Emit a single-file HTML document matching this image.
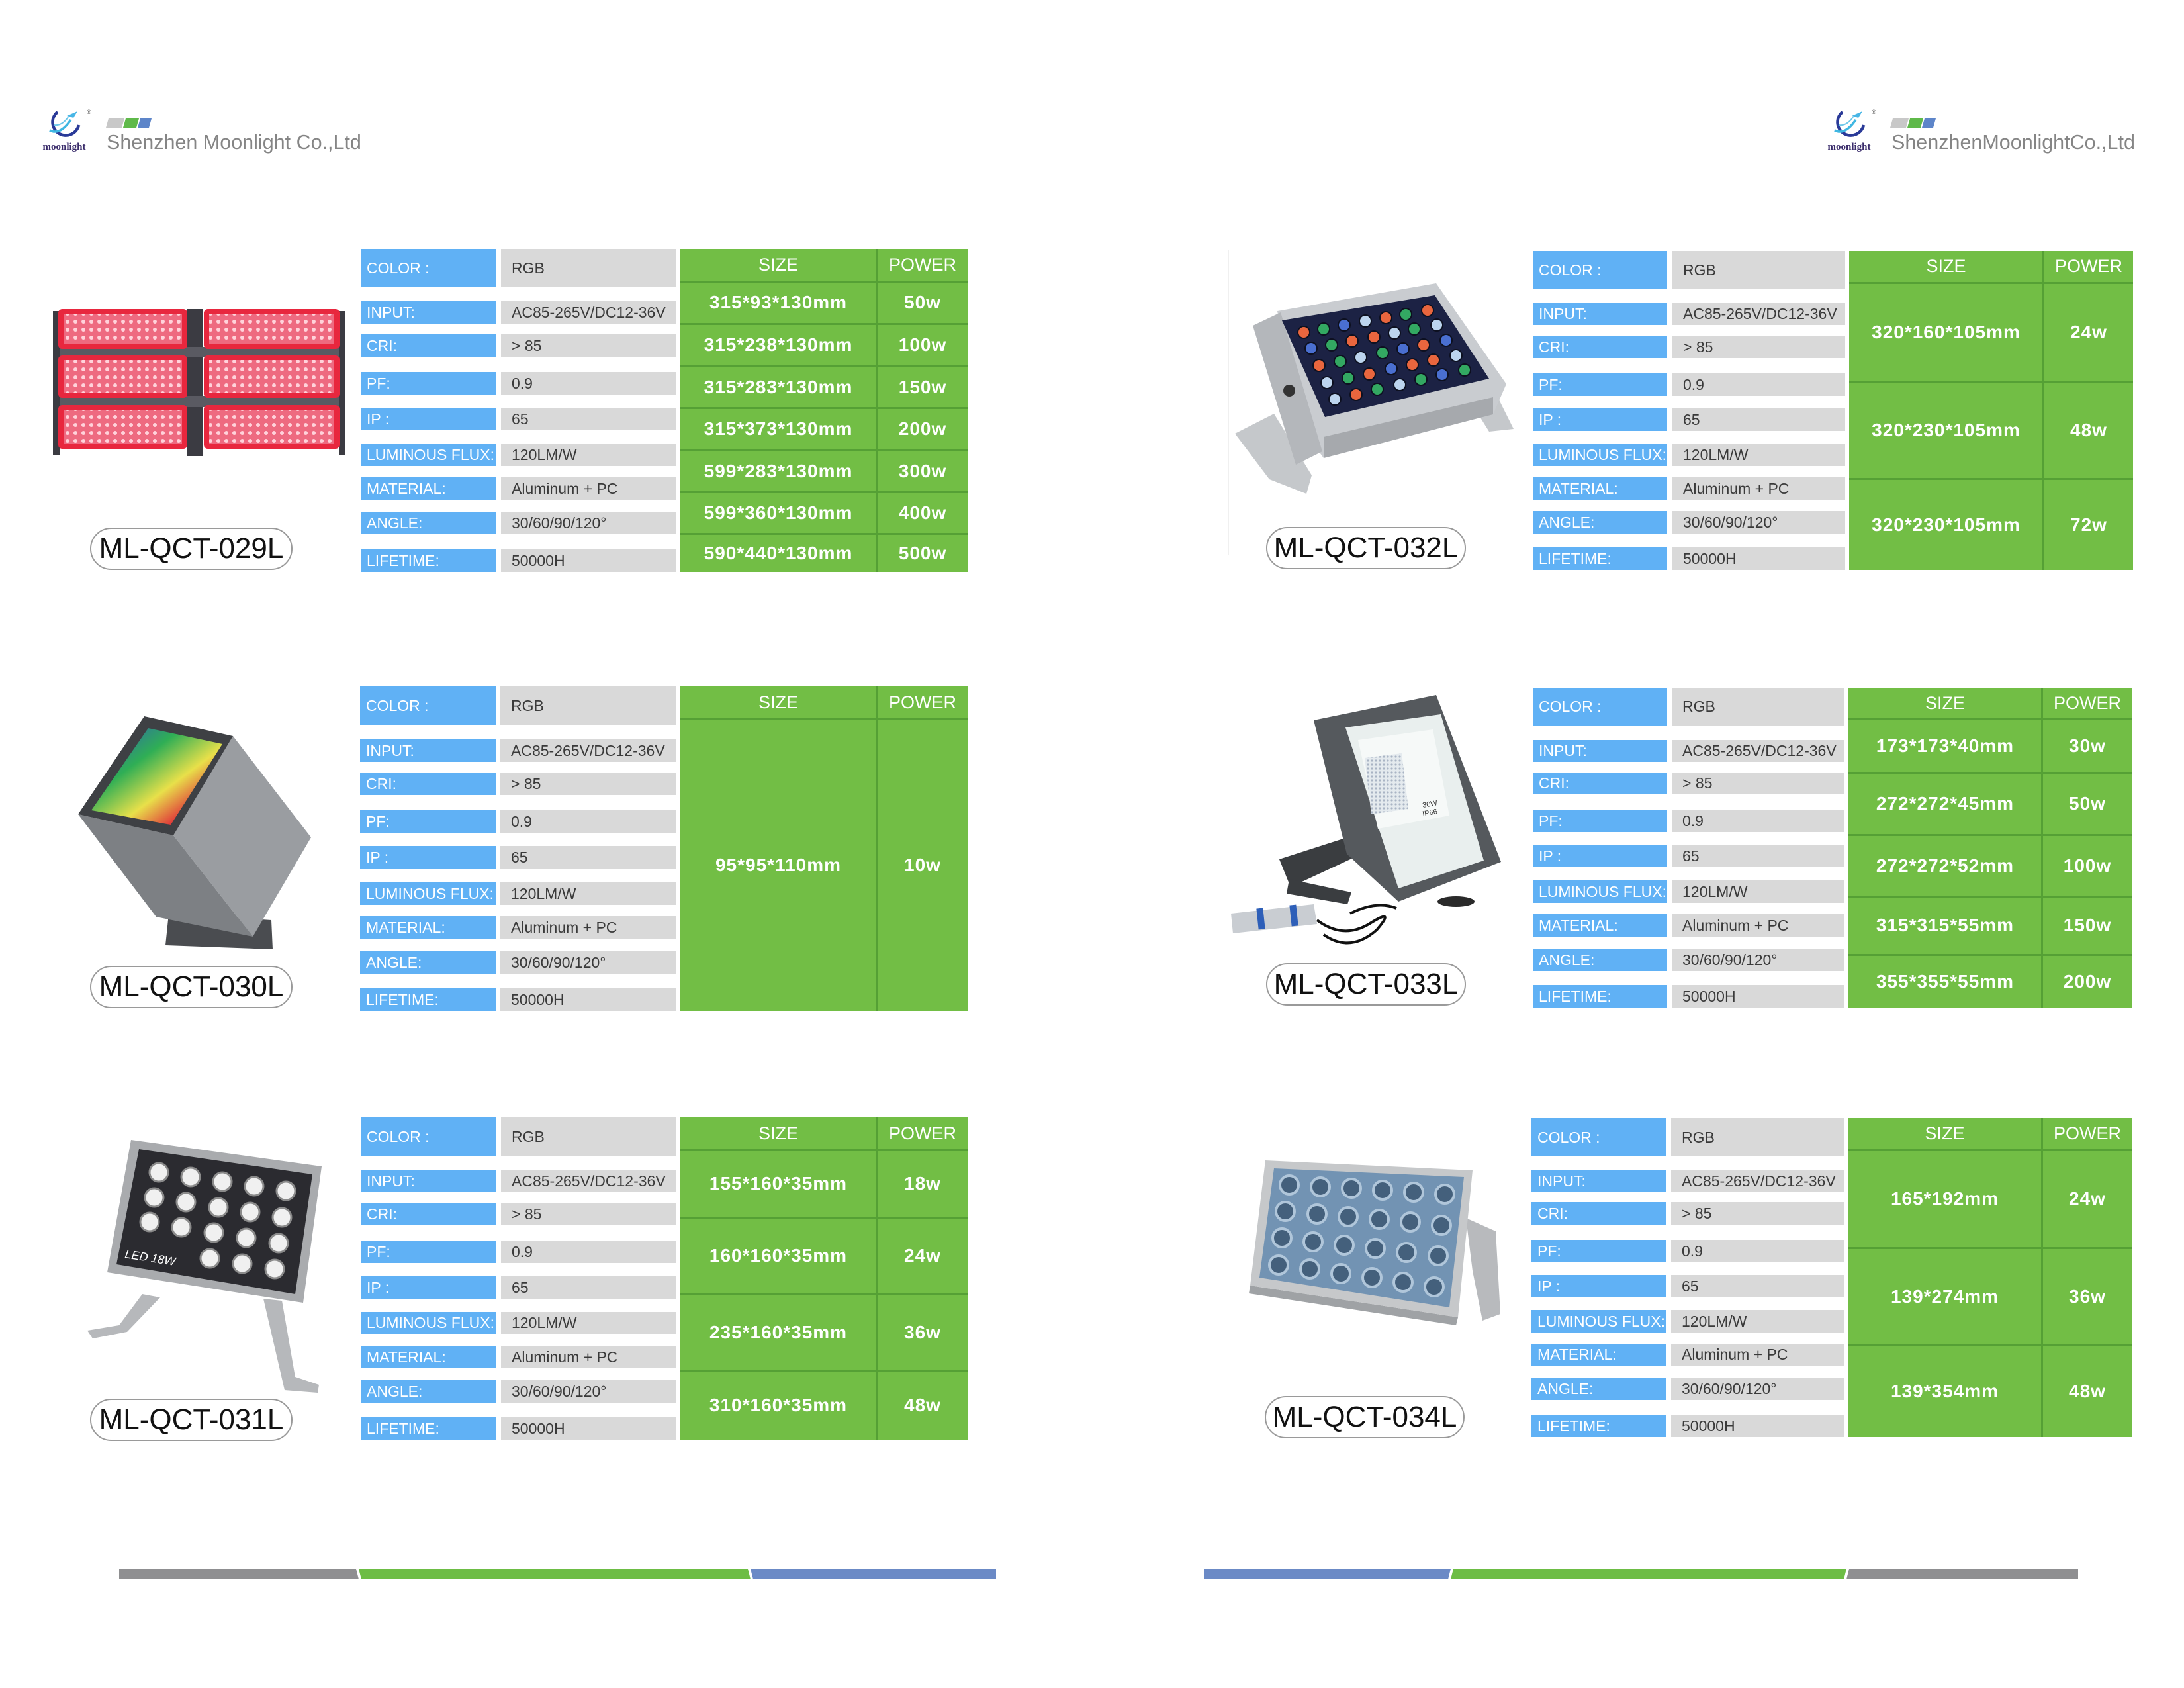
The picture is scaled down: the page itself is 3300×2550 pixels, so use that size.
<!DOCTYPE html>
<html><head><meta charset="utf-8">
<style>
html,body{margin:0;padding:0;background:#fff}
body{width:3300px;height:2550px;position:relative;overflow:hidden;font-family:"Liberation Sans",Arial,sans-serif}
svg.bg{position:absolute;left:0;top:0}
.t{position:absolute}
.b,.g{position:absolute;box-sizing:border-box;display:flex;align-items:center;white-space:nowrap;font-size:23px}
.b{left:0;background:#60b1f5;color:#fff;padding-left:9px}
.g{background:#d9d9d9;color:#3a3a3a;padding-left:16px}
.gr{position:absolute;background:#72be45}
.h,.c{position:absolute;display:flex;align-items:center;justify-content:center;color:#fff;white-space:nowrap}
.h{font-size:27px}
.c{font-size:28px;font-weight:bold;letter-spacing:1px}
.hl{position:absolute;left:0;right:0;height:3px;background:#55a035}
.vl{position:absolute;top:0;bottom:0;width:3px;background:#55a035}
.p{position:absolute;height:64px;box-sizing:border-box;border:2px solid #9a9a9a;border-radius:32px;background:#fff;display:flex;align-items:center;justify-content:center;font-size:44px;color:#111;white-space:nowrap}
</style></head><body>
<svg class="bg" width="3300" height="2550" viewBox="0 0 3300 2550" xmlns="http://www.w3.org/2000/svg">
<defs>
<pattern id="leds" x="0" y="0" width="12" height="12" patternUnits="userSpaceOnUse">
<rect width="12" height="12" fill="#ee6a80"/><circle cx="6" cy="6" r="3" fill="#ffd2da"/></pattern>
<pattern id="dots" x="0" y="0" width="6" height="6" patternUnits="userSpaceOnUse">
<rect width="6" height="6" fill="#e4eaee"/><circle cx="3" cy="3" r="1.6" fill="#a9b4c4"/></pattern>
<linearGradient id="rainbow" x1="0" y1="0" x2="1" y2="1">
<stop offset="0" stop-color="#3050c8"/><stop offset="0.35" stop-color="#2fae55"/><stop offset="0.6" stop-color="#e8e04a"/><stop offset="0.8" stop-color="#e03a3a"/><stop offset="1" stop-color="#7a2aa0"/></linearGradient>
<g id="logo">
<path d="M26 6 A20 20 0 1 0 58 26" stroke="#2a3a98" stroke-width="4.5" fill="none"/>
<path d="M14 34 Q30 42 46 18" stroke="#3fb7e2" stroke-width="3.5" fill="none"/>
<path d="M20 26 Q32 28 42 14" stroke="#6fc8ea" stroke-width="2" fill="none"/>
<path d="M40 12 L56 5 L50 15 Z" fill="#48b6e6"/>
<text x="36" y="63" font-size="15" font-weight="bold" font-family="Liberation Serif" fill="#3a2c6b" text-anchor="middle">moonlight</text>
<text x="70" y="9" font-size="9" fill="#555">®</text>
</g>
</defs>

<!-- header left -->
<use href="#logo" transform="translate(61,163)"/>
<polygon points="164,179 188,179 184,193 160,193" fill="#c8c8c8"/>
<polygon points="190,179 210,179 206,193 186,193" fill="#5fb94a"/>
<polygon points="212,179 229,179 225,193 208,193" fill="#5d85c9"/>
<text x="161" y="225" font-size="30.5" fill="#858585" font-family="Liberation Sans">Shenzhen Moonlight Co.,Ltd</text>

<!-- header right -->
<use href="#logo" transform="translate(2758,163)"/>
<polygon points="2860,179 2884,179 2880,193 2856,193" fill="#c8c8c8"/>
<polygon points="2886,179 2906,179 2902,193 2882,193" fill="#5fb94a"/>
<polygon points="2908,179 2925,179 2921,193 2904,193" fill="#5d85c9"/>
<text x="2858" y="225" font-size="30.5" fill="#858585" font-family="Liberation Sans">ShenzhenMoonlightCo.,Ltd</text>

<!-- faint line -->
<rect x="1855" y="378" width="2" height="460" fill="#f0f0f0"/>

<!-- 029L -->
<g>
<rect x="80" y="470" width="10" height="217" fill="#3b3b42"/>
<rect x="283" y="467" width="24" height="222" fill="#3b3b42"/>
<rect x="512" y="470" width="10" height="217" fill="#3b3b42"/>
<rect x="90" y="524" width="422" height="16" fill="#5a5a62"/>
<rect x="90" y="598" width="422" height="17" fill="#5a5a62"/>
<rect x="88" y="467" width="195" height="60" rx="6" fill="#e8273e"/><rect x="96" y="474" width="179" height="46" fill="url(#leds)"/>
<rect x="308" y="467" width="205" height="60" rx="6" fill="#e8273e"/><rect x="316" y="474" width="189" height="46" fill="url(#leds)"/>
<rect x="88" y="537" width="195" height="64" rx="6" fill="#e8273e"/><rect x="96" y="544" width="179" height="50" fill="url(#leds)"/>
<rect x="308" y="537" width="205" height="64" rx="6" fill="#e8273e"/><rect x="316" y="544" width="189" height="50" fill="url(#leds)"/>
<rect x="88" y="612" width="195" height="66" rx="6" fill="#e8273e"/><rect x="96" y="619" width="179" height="52" fill="url(#leds)"/>
<rect x="308" y="612" width="205" height="66" rx="6" fill="#e8273e"/><rect x="316" y="619" width="189" height="52" fill="url(#leds)"/>
</g>

<!-- 032L -->
<g>
<polygon points="1866,655 1925,625 1982,718 1974,746 1918,724" fill="#c5c8cb"/>
<polygon points="2225,612 2262,598 2287,648 2250,652" fill="#c5c8cb"/>
<polygon points="1930,470 2170,428 2276,580 2256,626 2000,692 1962,640" fill="#c9ccd0"/>
<polygon points="2000,660 2256,600 2256,626 2000,692" fill="#a6a9ad"/>
<polygon points="1893,492 1935,472 1998,682 1958,702" fill="#b4b7bb"/>
<polygon points="1937,484 2168,446 2250,572 2002,630" fill="#1c2244"/>
<g stroke="#0d1020" stroke-width="2">
<circle cx="1970" cy="502" r="9" fill="#e9663e"/><circle cx="1981" cy="526" r="9" fill="#4a6fd0"/><circle cx="1993" cy="552" r="9" fill="#e9663e"/><circle cx="2005" cy="578" r="9" fill="#bcd4ee"/><circle cx="2017" cy="603" r="9" fill="#bcd4ee"/>
<circle cx="2000" cy="497" r="9" fill="#33a862"/><circle cx="2012" cy="521" r="9" fill="#33a862"/><circle cx="2025" cy="546" r="9" fill="#33a862"/><circle cx="2037" cy="571" r="9" fill="#33a862"/><circle cx="2049" cy="596" r="9" fill="#e9663e"/>
<circle cx="2031" cy="491" r="9" fill="#4a6fd0"/><circle cx="2043" cy="515" r="9" fill="#e9663e"/><circle cx="2056" cy="540" r="9" fill="#bcd4ee"/><circle cx="2069" cy="565" r="9" fill="#e9663e"/><circle cx="2081" cy="588" r="9" fill="#33a862"/>
<circle cx="2063" cy="485" r="9" fill="#bcd4ee"/><circle cx="2076" cy="509" r="9" fill="#e9663e"/><circle cx="2089" cy="533" r="9" fill="#33a862"/><circle cx="2102" cy="557" r="9" fill="#4a6fd0"/><circle cx="2115" cy="581" r="9" fill="#bcd4ee"/>
<circle cx="2094" cy="480" r="9" fill="#e9663e"/><circle cx="2107" cy="503" r="9" fill="#bcd4ee"/><circle cx="2120" cy="527" r="9" fill="#4a6fd0"/><circle cx="2134" cy="551" r="9" fill="#e9663e"/><circle cx="2147" cy="573" r="9" fill="#33a862"/>
<circle cx="2124" cy="475" r="9" fill="#33a862"/><circle cx="2137" cy="497" r="9" fill="#33a862"/><circle cx="2151" cy="521" r="9" fill="#e9663e"/><circle cx="2166" cy="544" r="9" fill="#e9663e"/><circle cx="2179" cy="566" r="9" fill="#4a6fd0"/>
<circle cx="2157" cy="469" r="9" fill="#e9663e"/><circle cx="2171" cy="491" r="9" fill="#bcd4ee"/><circle cx="2185" cy="514" r="9" fill="#4a6fd0"/><circle cx="2200" cy="537" r="9" fill="#bcd4ee"/><circle cx="2213" cy="559" r="9" fill="#33a862"/>
</g>
<circle cx="1948" cy="590" r="9" fill="#333"/>
</g>

<!-- 030L -->
<g>
<polygon points="255,1380 410,1390 412,1434 250,1428" fill="#4a4c50"/>
<polygon points="118,1230 262,1262 382,1415 236,1385" fill="#7d8084"/>
<polygon points="352,1112 470,1265 382,1415 262,1262" fill="#9a9da1"/>
<polygon points="118,1230 218,1082 352,1112 262,1262" fill="#3e4044"/>
<polygon points="138,1224 224,1100 336,1124 258,1246" fill="url(#rainbow)"/>
</g>

<!-- 033L -->
<g>
<polygon points="1933,1298 2045,1262 2062,1288 1950,1340" fill="#3a3d40"/>
<polygon points="1948,1328 2042,1348 2036,1366 1944,1350" fill="#3a3d40"/>
<polygon points="1985,1088 2170,1050 2268,1302 2113,1362 2035,1290" fill="#55595d"/>
<polygon points="2033,1099 2177,1079 2242,1300 2113,1342" fill="#e9efee"/>
<polygon points="2052,1118 2165,1102 2190,1232 2082,1252" fill="#f6f9f8"/>
<polygon points="2062,1145 2118,1138 2128,1222 2072,1230" fill="url(#dots)"/>
<text x="2150" y="1220" font-size="11" fill="#333" transform="rotate(-10 2150 1220)">30W</text>
<text x="2150" y="1233" font-size="11" fill="#333" transform="rotate(-10 2150 1233)">IP66</text>
<ellipse cx="2200" cy="1362" rx="28" ry="8" fill="#2a2a2a"/>
<path d="M1990 1390 Q2030 1420 2070 1395 Q2110 1370 2080 1405 Q2040 1440 2000 1412" stroke="#111" stroke-width="4" fill="none"/>
<path d="M2040 1380 Q2080 1360 2110 1372" stroke="#111" stroke-width="4" fill="none"/>
<polygon points="1860,1380 1985,1366 1990,1396 1863,1410" fill="#c9cdd2"/>
<rect x="1900" y="1372" width="10" height="32" fill="#2e5fb8" transform="rotate(-6 1905 1388)"/>
<rect x="1950" y="1367" width="10" height="32" fill="#2e5fb8" transform="rotate(-6 1955 1383)"/>
</g>

<!-- 031L -->
<g>
<polygon points="215,1955 242,1960 192,2012 140,2022 132,2010 180,2002" fill="#b6b8bb"/>
<polygon points="398,1962 426,1965 446,2080 482,2092 480,2104 430,2100" fill="#b6b8bb"/>
<polygon points="198,1722 486,1762 458,1968 162,1922" fill="#a9abae"/>
<polygon points="210,1736 472,1774 446,1955 176,1910" fill="#2b2b30"/>
<g fill="#f0f0f0" stroke="#8a8a8a" stroke-width="3">
<circle cx="240" cy="1771" r="14"/><circle cx="233" cy="1809" r="14"/><circle cx="226" cy="1846" r="14"/>
<circle cx="288" cy="1778" r="14"/><circle cx="281" cy="1816" r="14"/><circle cx="274" cy="1854" r="14"/>
<circle cx="336" cy="1785" r="14"/><circle cx="330" cy="1824" r="14"/><circle cx="323" cy="1862" r="14"/><circle cx="317" cy="1901" r="14"/>
<circle cx="384" cy="1792" r="14"/><circle cx="378" cy="1831" r="14"/><circle cx="372" cy="1870" r="14"/><circle cx="366" cy="1909" r="14"/>
<circle cx="432" cy="1799" r="14"/><circle cx="426" cy="1839" r="14"/><circle cx="421" cy="1878" r="14"/><circle cx="415" cy="1917" r="14"/>
</g>
<text x="188" y="1900" font-size="18" font-style="italic" fill="#fff" transform="rotate(9 188 1900)">LED 18W</text>
</g>

<!-- 034L -->
<g>
<polygon points="2215,1840 2260,1860 2267,1985 2240,1995 2225,1920" fill="#b8babd"/>
<polygon points="1889,1942 2203,1990 2200,2002 1887,1954" fill="#9fa2a5"/>
<polygon points="1912,1753 2225,1768 2203,1990 1889,1942" fill="#c6c8ca"/>
<polygon points="1925,1765 2212,1778 2190,1975 1903,1930" fill="#7293b3"/>
<g fill="#44607c" stroke="#b0c6da" stroke-width="4">
<circle cx="1948" cy="1790" r="14"/><circle cx="1942" cy="1830" r="14"/><circle cx="1937" cy="1870" r="14"/><circle cx="1932" cy="1911" r="14"/>
<circle cx="1995" cy="1793" r="14"/><circle cx="1990" cy="1834" r="14"/><circle cx="1984" cy="1876" r="14"/><circle cx="1979" cy="1917" r="14"/>
<circle cx="2042" cy="1795" r="14"/><circle cx="2037" cy="1838" r="14"/><circle cx="2031" cy="1881" r="14"/><circle cx="2026" cy="1924" r="14"/>
<circle cx="2089" cy="1798" r="14"/><circle cx="2084" cy="1842" r="14"/><circle cx="2078" cy="1886" r="14"/><circle cx="2073" cy="1930" r="14"/>
<circle cx="2136" cy="1801" r="14"/><circle cx="2131" cy="1846" r="14"/><circle cx="2125" cy="1892" r="14"/><circle cx="2120" cy="1937" r="14"/>
<circle cx="2183" cy="1804" r="14"/><circle cx="2178" cy="1851" r="14"/><circle cx="2173" cy="1897" r="14"/><circle cx="2167" cy="1944" r="14"/>
</g>
</g>

<!-- bottom bars -->
<polygon points="180,2370 538,2370 542,2386 180,2386" fill="#8f8f91"/>
<polygon points="542,2370 1130,2370 1134,2386 546,2386" fill="#6dbd45"/>
<polygon points="1134,2370 1505,2370 1505,2386 1138,2386" fill="#6b8ac6"/>
<polygon points="1819,2370 2192,2370 2188,2386 1819,2386" fill="#6b8ac6"/>
<polygon points="2196,2370 2790,2370 2786,2386 2192,2386" fill="#6dbd45"/>
<polygon points="2794,2370 3140,2370 3140,2386 2790,2386" fill="#8f8f91"/>
</svg>

<!-- TABLE 1 -->
<div class="t" style="left:545px;top:376px">
<div class="b" style="top:0;height:58px;width:205px">COLOR :</div><div class="g" style="left:212px;top:0;height:58px;width:265px">RGB</div>
<div class="b" style="top:79px;height:34px;width:205px">INPUT:</div><div class="g" style="left:212px;top:79px;height:34px;width:265px">AC85-265V/DC12-36V</div>
<div class="b" style="top:129px;height:34px;width:205px">CRI:</div><div class="g" style="left:212px;top:129px;height:34px;width:265px">&gt; 85</div>
<div class="b" style="top:186px;height:34px;width:205px">PF:</div><div class="g" style="left:212px;top:186px;height:34px;width:265px">0.9</div>
<div class="b" style="top:240px;height:34px;width:205px">IP :</div><div class="g" style="left:212px;top:240px;height:34px;width:265px">65</div>
<div class="b" style="top:294px;height:34px;width:205px">LUMINOUS FLUX:</div><div class="g" style="left:212px;top:294px;height:34px;width:265px">120LM/W</div>
<div class="b" style="top:345px;height:34px;width:205px">MATERIAL:</div><div class="g" style="left:212px;top:345px;height:34px;width:265px">Aluminum + PC</div>
<div class="b" style="top:397px;height:34px;width:205px">ANGLE:</div><div class="g" style="left:212px;top:397px;height:34px;width:265px">30/60/90/120°</div>
<div class="b" style="top:454px;height:34px;width:205px">LIFETIME:</div><div class="g" style="left:212px;top:454px;height:34px;width:265px">50000H</div>
<div class="gr" style="left:483px;top:0;width:434px;height:488px">
<div class="vl" style="left:295px"></div>
<div class="h" style="left:0;width:296px;top:0;height:48px">SIZE</div><div class="h" style="left:298px;width:136px;top:0;height:48px">POWER</div>
<div class="hl" style="top:48px"></div>
<div class="c" style="left:0;width:296px;top:50px;height:62px">315*93*130mm</div><div class="c" style="left:298px;width:136px;top:50px;height:62px">50w</div>
<div class="hl" style="top:112px"></div>
<div class="c" style="left:0;width:296px;top:114px;height:62px">315*238*130mm</div><div class="c" style="left:298px;width:136px;top:114px;height:62px">100w</div>
<div class="hl" style="top:176px"></div>
<div class="c" style="left:0;width:296px;top:178px;height:62px">315*283*130mm</div><div class="c" style="left:298px;width:136px;top:178px;height:62px">150w</div>
<div class="hl" style="top:239px"></div>
<div class="c" style="left:0;width:296px;top:241px;height:62px">315*373*130mm</div><div class="c" style="left:298px;width:136px;top:241px;height:62px">200w</div>
<div class="hl" style="top:303px"></div>
<div class="c" style="left:0;width:296px;top:305px;height:62px">599*283*130mm</div><div class="c" style="left:298px;width:136px;top:305px;height:62px">300w</div>
<div class="hl" style="top:366px"></div>
<div class="c" style="left:0;width:296px;top:368px;height:62px">599*360*130mm</div><div class="c" style="left:298px;width:136px;top:368px;height:62px">400w</div>
<div class="hl" style="top:429px"></div>
<div class="c" style="left:0;width:296px;top:431px;height:57px">590*440*130mm</div><div class="c" style="left:298px;width:136px;top:431px;height:57px">500w</div>
</div>
</div>

<!-- TABLE 2 -->
<div class="t" style="left:2316px;top:379px">
<div class="b" style="top:0;height:58px;width:203px">COLOR :</div><div class="g" style="left:211px;top:0;height:58px;width:261px">RGB</div>
<div class="b" style="top:78px;height:34px;width:203px">INPUT:</div><div class="g" style="left:211px;top:78px;height:34px;width:261px">AC85-265V/DC12-36V</div>
<div class="b" style="top:128px;height:34px;width:203px">CRI:</div><div class="g" style="left:211px;top:128px;height:34px;width:261px">&gt; 85</div>
<div class="b" style="top:185px;height:34px;width:203px">PF:</div><div class="g" style="left:211px;top:185px;height:34px;width:261px">0.9</div>
<div class="b" style="top:238px;height:34px;width:203px">IP :</div><div class="g" style="left:211px;top:238px;height:34px;width:261px">65</div>
<div class="b" style="top:291px;height:34px;width:203px">LUMINOUS FLUX:</div><div class="g" style="left:211px;top:291px;height:34px;width:261px">120LM/W</div>
<div class="b" style="top:342px;height:34px;width:203px">MATERIAL:</div><div class="g" style="left:211px;top:342px;height:34px;width:261px">Aluminum + PC</div>
<div class="b" style="top:393px;height:34px;width:203px">ANGLE:</div><div class="g" style="left:211px;top:393px;height:34px;width:261px">30/60/90/120°</div>
<div class="b" style="top:448px;height:34px;width:203px">LIFETIME:</div><div class="g" style="left:211px;top:448px;height:34px;width:261px">50000H</div>
<div class="gr" style="left:478px;top:0;width:429px;height:482px">
<div class="vl" style="left:292px"></div>
<div class="h" style="left:0;width:293px;top:0;height:47px">SIZE</div><div class="h" style="left:295px;width:134px;top:0;height:47px">POWER</div>
<div class="hl" style="top:47px"></div>
<div class="c" style="left:0;width:293px;top:49px;height:147px">320*160*105mm</div><div class="c" style="left:295px;width:134px;top:49px;height:147px">24w</div>
<div class="hl" style="top:196px"></div>
<div class="c" style="left:0;width:293px;top:198px;height:145px">320*230*105mm</div><div class="c" style="left:295px;width:134px;top:198px;height:145px">48w</div>
<div class="hl" style="top:343px"></div>
<div class="c" style="left:0;width:293px;top:345px;height:137px">320*230*105mm</div><div class="c" style="left:295px;width:134px;top:345px;height:137px">72w</div>
</div>
</div>

<!-- TABLE 3 -->
<div class="t" style="left:544px;top:1037px">
<div class="b" style="top:0;height:58px;width:205px">COLOR :</div><div class="g" style="left:212px;top:0;height:58px;width:266px">RGB</div>
<div class="b" style="top:80px;height:34px;width:205px">INPUT:</div><div class="g" style="left:212px;top:80px;height:34px;width:266px">AC85-265V/DC12-36V</div>
<div class="b" style="top:130px;height:34px;width:205px">CRI:</div><div class="g" style="left:212px;top:130px;height:34px;width:266px">&gt; 85</div>
<div class="b" style="top:187px;height:35px;width:205px">PF:</div><div class="g" style="left:212px;top:187px;height:35px;width:266px">0.9</div>
<div class="b" style="top:241px;height:35px;width:205px">IP :</div><div class="g" style="left:212px;top:241px;height:35px;width:266px">65</div>
<div class="b" style="top:296px;height:34px;width:205px">LUMINOUS FLUX:</div><div class="g" style="left:212px;top:296px;height:34px;width:266px">120LM/W</div>
<div class="b" style="top:347px;height:35px;width:205px">MATERIAL:</div><div class="g" style="left:212px;top:347px;height:35px;width:266px">Aluminum + PC</div>
<div class="b" style="top:400px;height:34px;width:205px">ANGLE:</div><div class="g" style="left:212px;top:400px;height:34px;width:266px">30/60/90/120°</div>
<div class="b" style="top:456px;height:34px;width:205px">LIFETIME:</div><div class="g" style="left:212px;top:456px;height:34px;width:266px">50000H</div>
<div class="gr" style="left:484px;top:0;width:434px;height:490px">
<div class="vl" style="left:295px"></div>
<div class="h" style="left:0;width:296px;top:0;height:48px">SIZE</div><div class="h" style="left:298px;width:136px;top:0;height:48px">POWER</div>
<div class="hl" style="top:48px"></div>
<div class="c" style="left:0;width:296px;top:50px;height:440px">95*95*110mm</div><div class="c" style="left:298px;width:136px;top:50px;height:440px">10w</div>
</div>
</div>

<!-- TABLE 4 -->
<div class="t" style="left:2316px;top:1039px">
<div class="b" style="top:0;height:57px;width:203px">COLOR :</div><div class="g" style="left:210px;top:0;height:57px;width:261px">RGB</div>
<div class="b" style="top:79px;height:33px;width:203px">INPUT:</div><div class="g" style="left:210px;top:79px;height:33px;width:261px">AC85-265V/DC12-36V</div>
<div class="b" style="top:128px;height:33px;width:203px">CRI:</div><div class="g" style="left:210px;top:128px;height:33px;width:261px">&gt; 85</div>
<div class="b" style="top:185px;height:33px;width:203px">PF:</div><div class="g" style="left:210px;top:185px;height:33px;width:261px">0.9</div>
<div class="b" style="top:238px;height:33px;width:203px">IP :</div><div class="g" style="left:210px;top:238px;height:33px;width:261px">65</div>
<div class="b" style="top:291px;height:34px;width:203px">LUMINOUS FLUX:</div><div class="g" style="left:210px;top:291px;height:34px;width:261px">120LM/W</div>
<div class="b" style="top:342px;height:34px;width:203px">MATERIAL:</div><div class="g" style="left:210px;top:342px;height:34px;width:261px">Aluminum + PC</div>
<div class="b" style="top:394px;height:34px;width:203px">ANGLE:</div><div class="g" style="left:210px;top:394px;height:34px;width:261px">30/60/90/120°</div>
<div class="b" style="top:449px;height:34px;width:203px">LIFETIME:</div><div class="g" style="left:210px;top:449px;height:34px;width:261px">50000H</div>
<div class="gr" style="left:477px;top:0;width:428px;height:483px">
<div class="vl" style="left:291px"></div>
<div class="h" style="left:0;width:292px;top:0;height:46px">SIZE</div><div class="h" style="left:294px;width:134px;top:0;height:46px">POWER</div>
<div class="hl" style="top:46px"></div>
<div class="c" style="left:0;width:292px;top:48px;height:79px">173*173*40mm</div><div class="c" style="left:294px;width:134px;top:48px;height:79px">30w</div>
<div class="hl" style="top:127px"></div>
<div class="c" style="left:0;width:292px;top:129px;height:92px">272*272*45mm</div><div class="c" style="left:294px;width:134px;top:129px;height:92px">50w</div>
<div class="hl" style="top:221px"></div>
<div class="c" style="left:0;width:292px;top:223px;height:91px">272*272*52mm</div><div class="c" style="left:294px;width:134px;top:223px;height:91px">100w</div>
<div class="hl" style="top:314px"></div>
<div class="c" style="left:0;width:292px;top:316px;height:86px">315*315*55mm</div><div class="c" style="left:294px;width:134px;top:316px;height:86px">150w</div>
<div class="hl" style="top:402px"></div>
<div class="c" style="left:0;width:292px;top:404px;height:79px">355*355*55mm</div><div class="c" style="left:294px;width:134px;top:404px;height:79px">200w</div>
</div>
</div>

<!-- TABLE 5 -->
<div class="t" style="left:545px;top:1688px">
<div class="b" style="top:0;height:58px;width:205px">COLOR :</div><div class="g" style="left:212px;top:0;height:58px;width:265px">RGB</div>
<div class="b" style="top:79px;height:34px;width:205px">INPUT:</div><div class="g" style="left:212px;top:79px;height:34px;width:265px">AC85-265V/DC12-36V</div>
<div class="b" style="top:129px;height:34px;width:205px">CRI:</div><div class="g" style="left:212px;top:129px;height:34px;width:265px">&gt; 85</div>
<div class="b" style="top:186px;height:34px;width:205px">PF:</div><div class="g" style="left:212px;top:186px;height:34px;width:265px">0.9</div>
<div class="b" style="top:240px;height:34px;width:205px">IP :</div><div class="g" style="left:212px;top:240px;height:34px;width:265px">65</div>
<div class="b" style="top:294px;height:33px;width:205px">LUMINOUS FLUX:</div><div class="g" style="left:212px;top:294px;height:33px;width:265px">120LM/W</div>
<div class="b" style="top:345px;height:34px;width:205px">MATERIAL:</div><div class="g" style="left:212px;top:345px;height:34px;width:265px">Aluminum + PC</div>
<div class="b" style="top:397px;height:34px;width:205px">ANGLE:</div><div class="g" style="left:212px;top:397px;height:34px;width:265px">30/60/90/120°</div>
<div class="b" style="top:453px;height:34px;width:205px">LIFETIME:</div><div class="g" style="left:212px;top:453px;height:34px;width:265px">50000H</div>
<div class="gr" style="left:483px;top:0;width:434px;height:487px">
<div class="vl" style="left:295px"></div>
<div class="h" style="left:0;width:296px;top:0;height:48px">SIZE</div><div class="h" style="left:298px;width:136px;top:0;height:48px">POWER</div>
<div class="hl" style="top:48px"></div>
<div class="c" style="left:0;width:296px;top:50px;height:100px">155*160*35mm</div><div class="c" style="left:298px;width:136px;top:50px;height:100px">18w</div>
<div class="hl" style="top:150px"></div>
<div class="c" style="left:0;width:296px;top:152px;height:114px">160*160*35mm</div><div class="c" style="left:298px;width:136px;top:152px;height:114px">24w</div>
<div class="hl" style="top:266px"></div>
<div class="c" style="left:0;width:296px;top:268px;height:113px">235*160*35mm</div><div class="c" style="left:298px;width:136px;top:268px;height:113px">36w</div>
<div class="hl" style="top:381px"></div>
<div class="c" style="left:0;width:296px;top:383px;height:104px">310*160*35mm</div><div class="c" style="left:298px;width:136px;top:383px;height:104px">48w</div>
</div>
</div>

<!-- TABLE 6 -->
<div class="t" style="left:2314px;top:1689px">
<div class="b" style="top:0;height:58px;width:203px">COLOR :</div><div class="g" style="left:211px;top:0;height:58px;width:261px">RGB</div>
<div class="b" style="top:78px;height:34px;width:203px">INPUT:</div><div class="g" style="left:211px;top:78px;height:34px;width:261px">AC85-265V/DC12-36V</div>
<div class="b" style="top:127px;height:34px;width:203px">CRI:</div><div class="g" style="left:211px;top:127px;height:34px;width:261px">&gt; 85</div>
<div class="b" style="top:184px;height:34px;width:203px">PF:</div><div class="g" style="left:211px;top:184px;height:34px;width:261px">0.9</div>
<div class="b" style="top:237px;height:34px;width:203px">IP :</div><div class="g" style="left:211px;top:237px;height:34px;width:261px">65</div>
<div class="b" style="top:290px;height:34px;width:203px">LUMINOUS FLUX:</div><div class="g" style="left:211px;top:290px;height:34px;width:261px">120LM/W</div>
<div class="b" style="top:341px;height:33px;width:203px">MATERIAL:</div><div class="g" style="left:211px;top:341px;height:33px;width:261px">Aluminum + PC</div>
<div class="b" style="top:392px;height:34px;width:203px">ANGLE:</div><div class="g" style="left:211px;top:392px;height:34px;width:261px">30/60/90/120°</div>
<div class="b" style="top:448px;height:34px;width:203px">LIFETIME:</div><div class="g" style="left:211px;top:448px;height:34px;width:261px">50000H</div>
<div class="gr" style="left:478px;top:0;width:429px;height:482px">
<div class="vl" style="left:292px"></div>
<div class="h" style="left:0;width:293px;top:0;height:47px">SIZE</div><div class="h" style="left:295px;width:134px;top:0;height:47px">POWER</div>
<div class="hl" style="top:47px"></div>
<div class="c" style="left:0;width:293px;top:49px;height:146px">165*192mm</div><div class="c" style="left:295px;width:134px;top:49px;height:146px">24w</div>
<div class="hl" style="top:195px"></div>
<div class="c" style="left:0;width:293px;top:197px;height:145px">139*274mm</div><div class="c" style="left:295px;width:134px;top:197px;height:145px">36w</div>
<div class="hl" style="top:342px"></div>
<div class="c" style="left:0;width:293px;top:344px;height:138px">139*354mm</div><div class="c" style="left:295px;width:134px;top:344px;height:138px">48w</div>
</div>
</div>

<!-- labels -->
<div class="p" style="left:136px;top:797px;width:306px">ML-QCT-029L</div>
<div class="p" style="left:136px;top:1459px;width:306px">ML-QCT-030L</div>
<div class="p" style="left:136px;top:2113px;width:306px">ML-QCT-031L</div>
<div class="p" style="left:1913px;top:796px;width:302px">ML-QCT-032L</div>
<div class="p" style="left:1913px;top:1455px;width:302px">ML-QCT-033L</div>
<div class="p" style="left:1911px;top:2109px;width:302px">ML-QCT-034L</div>

</body></html>
